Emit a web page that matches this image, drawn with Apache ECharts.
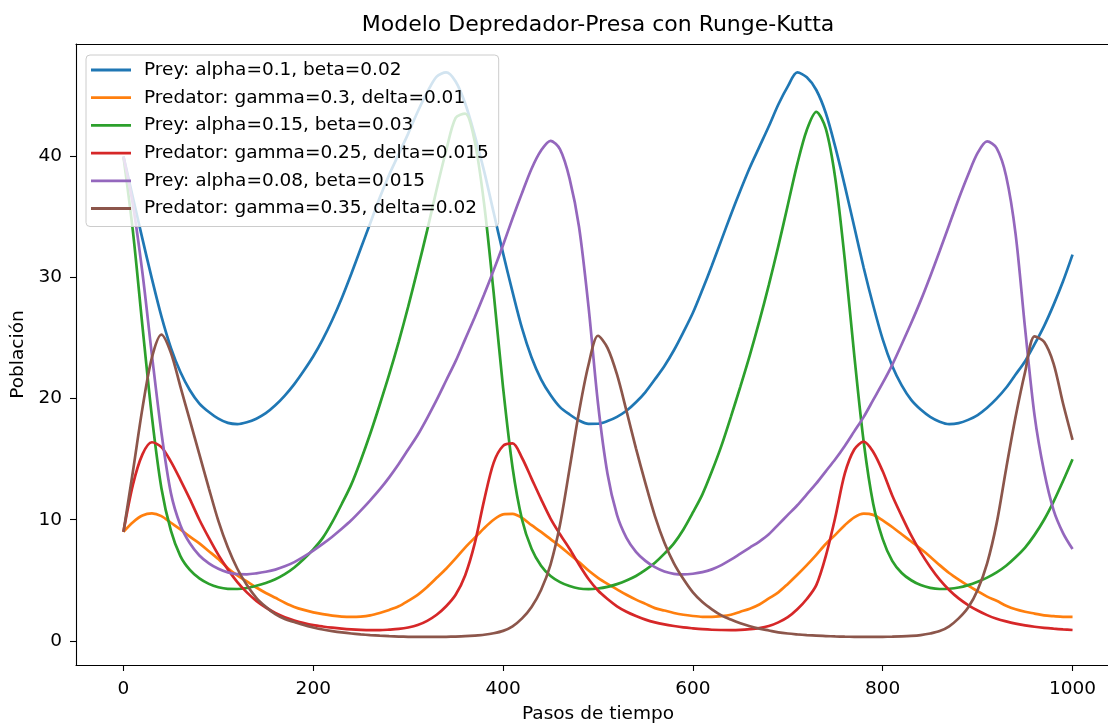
<!DOCTYPE html>
<html>
<head>
<meta charset="utf-8">
<script src="https://cdn.jsdelivr.net/npm/echarts@6/dist/echarts.min.js"></script>
<style>html,body{margin:0;padding:0;background:#fff}#c{width:1108px;height:724px}</style>
</head>
<body>
<div id="c"></div>
<script>
const steps = [0,10,20,30,40,50,60,70,80,90,
100,110,120,130,140,150,160,170,180,190,
200,210,220,230,240,250,260,270,280,290,
300,310,320,330,340,350,360,370,380,390,
400,410,420,430,440,450,460,470,480,490,
500,510,520,530,540,550,560,570,580,590,
600,610,620,630,640,650,660,670,680,690,
700,710,720,730,740,750,760,770,780,790,
800,810,820,830,840,850,860,870,880,890,
900,910,920,930,940,950,960,970,980,990,
1000];

const preyA = [40.0,36.6,33.2,29.9,26.8,24.2,22.2,20.7,19.6,18.9,
18.35,18.0,17.9,18.05,18.35,18.8,19.45,20.25,21.2,22.3,
23.5,24.9,26.5,28.3,30.3,32.4,34.5,36.6,38.5,40.2,
41.9,43.7,45.3,46.6,46.95,46.2,44.4,41.8,38.8,35.4,
32.0,28.8,25.8,23.4,21.6,20.3,19.3,18.7,18.2,17.92,
17.93,18.15,18.5,19.0,19.7,20.55,21.6,22.7,24.0,25.5,
27.1,29.0,31.0,33.1,35.2,37.2,39.1,40.8,42.5,44.3,
45.8,46.95,46.55,45.5,43.6,40.8,37.6,34.2,30.8,27.7,
24.9,22.7,21.1,19.9,19.1,18.5,18.1,17.9,17.98,18.25,
18.65,19.25,20.0,20.9,22.0,23.1,24.5,26.0,27.75,29.7,
31.9];

const predA = [9.0,9.8,10.35,10.52,10.3,9.75,9.2,8.6,8.05,7.4,
6.75,6.0,5.4,4.9,4.4,3.95,3.55,3.15,2.8,2.55,
2.35,2.2,2.08,2.0,1.97,2.0,2.1,2.3,2.55,2.85,
3.3,3.8,4.45,5.2,5.95,6.8,7.7,8.5,9.3,10.0,
10.45,10.48,10.15,9.55,9.0,8.4,7.8,7.15,6.5,5.8,
5.2,4.7,4.25,3.8,3.4,3.05,2.7,2.5,2.3,2.15,
2.05,1.98,1.97,2.03,2.15,2.4,2.65,3.0,3.5,4.0,
4.7,5.45,6.25,7.1,8.0,8.75,9.55,10.2,10.5,10.4,
9.95,9.4,8.8,8.2,7.6,6.95,6.25,5.6,5.05,4.55,
4.1,3.65,3.3,2.9,2.6,2.4,2.25,2.1,2.03,1.98,
1.98];

const preyB = [40.0,33.8,26.0,18.5,12.6,9.1,7.0,5.85,5.15,4.7,
4.42,4.29,4.28,4.36,4.55,4.78,5.08,5.5,6.05,6.75,
7.55,8.5,9.8,11.3,12.9,14.9,17.1,19.5,22.0,24.7,
27.6,30.7,33.9,37.3,40.5,43.2,43.55,41.3,36.1,28.8,
20.9,14.3,10.0,7.6,6.2,5.35,4.85,4.52,4.32,4.27,
4.32,4.45,4.68,4.98,5.35,5.85,6.45,7.2,8.05,9.2,
10.6,12.1,14.0,16.1,18.5,21.0,23.6,26.4,29.4,32.6,
36.0,39.4,42.2,43.7,42.3,38.2,31.5,23.6,16.4,11.3,
8.4,6.6,5.6,5.0,4.6,4.37,4.28,4.3,4.4,4.6,
4.88,5.22,5.65,6.2,6.9,7.7,8.75,10.0,11.5,13.2,
15.0];

const predB = [9.0,12.9,15.4,16.4,16.0,14.8,13.3,11.7,10.0,8.5,
7.1,5.9,4.85,4.0,3.3,2.75,2.3,1.95,1.68,1.47,
1.3,1.18,1.08,1.0,0.94,0.9,0.88,0.88,0.92,0.98,
1.1,1.3,1.65,2.15,2.85,3.8,5.4,8.0,11.6,14.7,
16.1,16.3,15.1,13.4,11.7,10.1,8.8,7.6,6.3,5.1,
4.15,3.45,2.85,2.4,2.05,1.75,1.52,1.35,1.22,1.11,
1.03,0.96,0.91,0.89,0.88,0.9,0.96,1.05,1.22,1.52,
1.95,2.6,3.45,4.6,7.0,10.2,13.8,15.8,16.45,15.6,
14.0,12.0,10.3,8.7,7.3,6.1,5.05,4.2,3.5,2.95,
2.5,2.12,1.82,1.6,1.42,1.28,1.16,1.07,1.0,0.94,
0.89];

const preyC = [40.0,36.0,30.4,23.6,17.2,12.2,9.55,8.05,7.05,6.4,
5.95,5.65,5.5,5.49,5.57,5.7,5.88,6.15,6.5,6.95,
7.45,8.0,8.6,9.25,9.95,10.75,11.6,12.5,13.5,14.6,
15.8,17.0,18.4,19.9,21.5,23.1,24.9,26.7,28.6,30.6,
32.7,34.9,37.0,39.0,40.5,41.3,40.6,38.2,34.2,27.6,
19.6,13.8,10.4,8.5,7.35,6.6,6.08,5.72,5.53,5.48,
5.54,5.67,5.9,6.25,6.7,7.2,7.7,8.2,8.8,9.6,
10.4,11.2,12.1,13.0,14.0,15.0,16.1,17.3,18.5,19.9,
21.3,22.8,24.5,26.25,28.1,30.1,32.2,34.35,36.5,38.5,
40.3,41.25,40.7,38.4,33.6,25.8,18.6,14.0,10.8,8.9,
7.58];

const predC = [9.0,14.0,19.2,23.4,25.3,23.8,21.0,18.2,15.4,12.6,
9.9,7.7,5.95,4.6,3.55,2.8,2.2,1.8,1.55,1.3,
1.1,0.93,0.8,0.69,0.6,0.53,0.47,0.42,0.38,0.35,
0.33,0.32,0.32,0.32,0.33,0.35,0.38,0.43,0.5,0.62,
0.82,1.2,1.85,2.8,4.2,6.3,9.6,14.2,18.9,22.8,
25.2,24.2,22.0,19.0,15.9,13.0,10.3,8.1,6.4,5.1,
4.0,3.2,2.6,2.1,1.75,1.45,1.2,1.0,0.85,0.7,
0.6,0.53,0.47,0.42,0.39,0.36,0.34,0.33,0.32,0.32,
0.33,0.34,0.36,0.4,0.47,0.6,0.8,1.2,1.85,2.75,
4.2,6.4,9.7,14.2,18.5,22.2,25.15,24.7,22.9,19.6,
16.6];

const seriesNames = [
  'Prey: alpha=0.1, beta=0.02',
  'Predator: gamma=0.3, delta=0.01',
  'Prey: alpha=0.15, beta=0.03',
  'Predator: gamma=0.25, delta=0.015',
  'Prey: alpha=0.08, beta=0.015',
  'Predator: gamma=0.35, delta=0.02'
];
const seriesValues = [preyA, predA, preyB, predB, preyC, predC];
const colors = ['#1f77b4','#ff7f0e','#2ca02c','#d62728','#9467bd','#8c564b'];
const xTicks = [0,200,400,600,800,1000];
const yTicks = [0,10,20,30,40];

const FONT = 'DejaVu Sans';
const chart = echarts.init(document.getElementById('c'), null, {renderer: 'canvas'});

const series = seriesValues.map((vals, i) => ({
  name: seriesNames[i],
  type: 'line',
  xAxisIndex: 0,
  data: steps.map((s, k) => [s, vals[k]]),
  symbol: 'none',
  showSymbol: false,
  smooth: 0.3,
  lineStyle: {color: colors[i], width: 2.7},
  itemStyle: {color: colors[i]},
  emphasis: {disabled: true},
  animation: false
}));

const labelStyle = {color: '#000', fontFamily: FONT, fontSize: 18.5};
const spine = {show: true, onZero: false, lineStyle: {color: '#000', width: 1.1}};

chart.setOption({
  animation: false,
  backgroundColor: '#fff',
  color: colors,
  title: {
    text: 'Modelo Depredador-Presa con Runge-Kutta',
    left: 598, top: 14, textAlign: 'center', padding: 0,
    textStyle: {fontFamily: FONT, fontSize: 22, fontWeight: 'normal', color: '#000'}
  },
  legend: {
    orient: 'vertical',
    left: 86, top: 55,
    padding: [5, 10, 8, 5],
    icon: 'rect',
    itemWidth: 40, itemHeight: 2.8, itemGap: 7.7,
    backgroundColor: 'rgba(255,255,255,0.8)',
    borderColor: '#cccccc', borderWidth: 1, borderRadius: 4,
    selectedMode: false,
    data: seriesNames,
    textStyle: {fontFamily: FONT, fontSize: 18.5, lineHeight: 20, color: '#000', padding: [0, 0, 0, 8]}
  },
  grid: {
    left: 76, top: 44, width: 1044, height: 621,
    show: false,
    containLabel: false,
    outerBoundsMode: 'none'
  },
  xAxis: [{
    type: 'value',
    min: -50, max: 1050,
    name: 'Pasos de tiempo', nameLocation: 'middle', nameGap: 40,
    nameTextStyle: labelStyle,
    axisLine: spine,
    splitLine: {show: false},
    axisTick: {show: true, length: 6, lineStyle: {color: '#000', width: 1.1}, customValues: xTicks},
    axisLabel: Object.assign({customValues: xTicks, margin: 15, formatter: v => String(v)}, labelStyle)
  }, {
    type: 'value',
    position: 'top',
    min: -50, max: 1050,
    axisLine: spine,
    splitLine: {show: false},
    axisTick: {show: false},
    axisLabel: {show: false}
  }],
  yAxis: {
    type: 'value',
    min: -2.0, max: 49.3,
    name: 'Población', nameLocation: 'middle', nameGap: 44, nameRotate: 90,
    nameTextStyle: labelStyle,
    axisLine: spine,
    splitLine: {show: false},
    axisTick: {show: true, length: 6, lineStyle: {color: '#000', width: 1.1}, customValues: yTicks},
    axisLabel: Object.assign({customValues: yTicks, margin: 14, formatter: v => String(v)}, labelStyle)
  },
  series: series
});
</script>
</body>
</html>
